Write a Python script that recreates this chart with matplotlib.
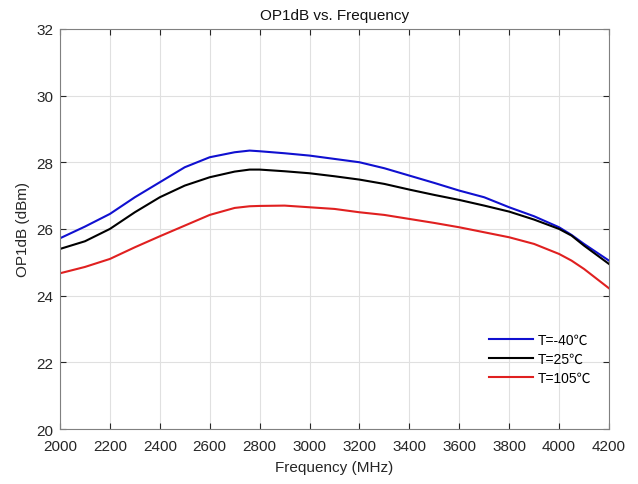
import matplotlib
matplotlib.use("Agg")
import matplotlib.pyplot as plt
import numpy as np

freq = [2000, 2100, 2200, 2300, 2400, 2500, 2600, 2700, 2760, 2800, 2900, 3000, 3100, 3200, 3300,
        3400, 3500, 3600, 3700, 3800, 3900, 4000, 4050, 4100, 4200]
op_m40 = [25.72, 26.07, 26.45, 26.95, 27.40, 27.85, 28.15, 28.30, 28.35, 28.33, 28.27, 28.20, 28.10,
          28.00, 27.82, 27.60, 27.38, 27.15, 26.95, 26.65, 26.38, 26.05, 25.82, 25.55, 25.05]
op_25 = [25.40, 25.63, 26.00, 26.50, 26.95, 27.30, 27.55, 27.72, 27.78, 27.78, 27.73, 27.67, 27.58,
         27.48, 27.35, 27.18, 27.02, 26.87, 26.70, 26.52, 26.28, 26.00, 25.80, 25.50, 24.95]
op_105 = [24.67, 24.86, 25.10, 25.45, 25.78, 26.10, 26.42, 26.63, 26.68, 26.69, 26.70, 26.65, 26.60,
          26.50, 26.42, 26.30, 26.18, 26.05, 25.90, 25.75, 25.55, 25.25, 25.05, 24.80, 24.22]
labels = ["T=-40\u2103", "T=25\u2103", "T=105\u2103"]
colors = ["#1010d0", "#000000", "#e02020"]

plt.rcParams['font.family'] = ['Liberation Sans', 'Noto Sans CJK SC', 'DejaVu Sans']

fig = plt.figure(figsize=(6.38, 4.85), dpi=100)
ax = fig.add_axes([0.094, 0.1134, 0.8605, 0.825])

for y, lab, c in zip([op_m40, op_25, op_105], labels, colors):
    ax.plot(freq, y, color=c, lw=1.5, label=lab)

ax.set_xlim(2000, 4200)
ax.set_ylim(20, 32)
ax.set_xticks(np.arange(2000, 4201, 200))
ax.set_yticks(np.arange(20, 33, 2))
ax.grid(True, color='#e0e0e0', lw=0.8)
ax.set_axisbelow(True)
ax.tick_params(direction='in', top=True, right=True, length=4.5, labelsize=11,
               colors='#262626', width=0.8)
ax.tick_params(axis='x', pad=7)
ax.tick_params(axis='y', pad=5)
for s in ax.spines.values():
    s.set_color('#808080')
    s.set_linewidth(0.8)
ax.set_xlabel("Frequency (MHz)", fontsize=11, color='#262626', labelpad=5)
ax.set_ylabel("OP1dB (dBm)", fontsize=11, color='#262626', labelpad=4)
ax.set_title("OP1dB vs. Frequency", fontsize=11, color='#111111', pad=7)
leg = ax.legend(loc='lower right', frameon=False, fontsize=10, handlelength=3.2,
                handletextpad=0.3, labelspacing=0.35, bbox_to_anchor=(0.99, 0.08))

fig.savefig("out.png", dpi=100)
